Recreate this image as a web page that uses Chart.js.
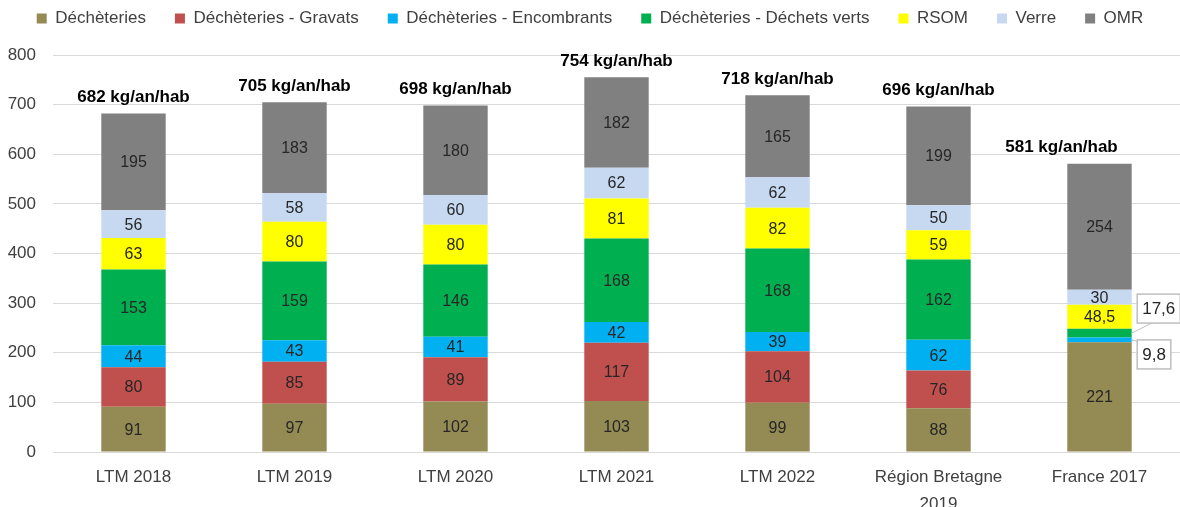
<!DOCTYPE html>
<html><head><meta charset="utf-8">
<script src="https://cdn.jsdelivr.net/npm/chart.js@4.4.1/dist/chart.umd.min.js"></script>
<style>html,body{margin:0;padding:0;background:#fff;overflow:hidden}#wrap{width:1180px;height:507px;position:relative}</style>
</head><body><div id="wrap"><canvas id="c" width="1180" height="507"></canvas></div>
<script>
const categories = ['LTM 2018','LTM 2019','LTM 2020','LTM 2021','LTM 2022',['Région Bretagne','2019'],'France 2017'];
const decheteries = [91,97,102,103,99,88,221];
const gravats = [80,85,89,117,104,76,null];
const encombrants = [44,43,41,42,39,62,9.8];
const dechetsVerts = [153,159,146,168,168,162,17.6];
const rsom = [63,80,80,81,82,59,48.5];
const verre = [56,58,60,62,62,50,30];
const omr = [195,183,180,182,165,199,254];
const totals = [682,705,698,754,718,696,581];
const totalUnit = ' kg/an/hab';
const yMin = 0, yMax = 800, yStep = 100;

const FONT = '"Liberation Sans", Arial, sans-serif';
const fmt = v => String(v).replace('.', ',');

const series = [
  {label:'Déchèteries', data:decheteries, color:'#948A54'},
  {label:'Déchèteries - Gravats', data:gravats, color:'#C0504D'},
  {label:'Déchèteries - Encombrants', data:encombrants, color:'#00B0F0'},
  {label:'Déchèteries - Déchets verts', data:dechetsVerts, color:'#00B050'},
  {label:'RSOM', data:rsom, color:'#FFFF00'},
  {label:'Verre', data:verre, color:'#C6D9F1'},
  {label:'OMR', data:omr, color:'#808080'}
];

const calloutStyle = {
  2: {dx: 5, dy: 14, anchor: 'topleft'},
  3: {dx: 5, dy: -25, anchor: 'bottom'}
};

const labelPlugin = {
  id: 'segLabels',
  afterDatasetsDraw(chart) {
    const ctx = chart.ctx;
    ctx.save();
    ctx.textAlign = 'center';
    ctx.textBaseline = 'middle';
    chart.data.datasets.forEach((ds, di) => {
      const meta = chart.getDatasetMeta(di);
      meta.data.forEach((bar, i) => {
        const v = ds.data[i];
        if (v == null) return;
        const txt = fmt(v);
        const cy = (bar.y + bar.base) / 2;
        if (v < 20 && calloutStyle[di]) {
          const cs = calloutStyle[di];
          ctx.font = '17px ' + FONT;
          const w = ctx.measureText(txt).width + 10;
          const h = 29;
          const right = bar.x + bar.width / 2;
          const bx = right + cs.dx;
          const bcy = cy + cs.dy;
          const by = bcy - h / 2;
          ctx.strokeStyle = '#BFBFBF';
          ctx.lineWidth = 1;
          ctx.beginPath();
          ctx.moveTo(right, cy);
          if (cs.anchor === 'bottom') ctx.lineTo(bx + 16, by + h);
          else ctx.lineTo(bx + 1, by + 2);
          ctx.stroke();
          ctx.fillStyle = '#fff';
          ctx.fillRect(bx, by, w, h);
          ctx.lineWidth = 1.5;
          ctx.strokeRect(bx + 0.5, by + 0.5, w, h);
          ctx.fillStyle = '#262626';
          ctx.fillText(txt, bx + w / 2 + 0.5, bcy + 1);
        } else {
          ctx.font = '16px ' + FONT;
          ctx.fillStyle = '#262626';
          ctx.fillText(txt, bar.x, cy + 1);
        }
      });
    });
    const last = chart.data.datasets.length - 1;
    const meta = chart.getDatasetMeta(last);
    ctx.font = 'bold 17px ' + FONT;
    ctx.fillStyle = '#000';
    totals.forEach((t, i) => {
      const bar = meta.data[i];
      const shift = (i === totals.length - 1) ? -38 : 0;
      ctx.fillText(t + totalUnit, bar.x + shift, bar.y - 16);
    });
    ctx.restore();
  }
};

const legendFit = {
  id: 'legendFit',
  beforeInit(chart) {
    const orig = chart.legend.fit;
    chart.legend.fit = function () {
      orig.bind(chart.legend)();
      this.height = 74;
    };
  }
};

new Chart(document.getElementById('c'), {
  type: 'bar',
  data: {
    labels: categories,
    datasets: series.map(s => ({
      label: s.label, data: s.data, backgroundColor: s.color, borderWidth: 0,
      barPercentage: 0.40, categoryPercentage: 1
    }))
  },
  options: {
    responsive: false,
    animation: false,
    devicePixelRatio: 1,
    layout: {padding: {top: -19, left: 0, right: 0, bottom: 0}},
    plugins: {
      legend: {
        position: 'top',
        labels: {boxWidth: 10, boxHeight: 10, padding: 29, color: '#404040', font: {family: FONT, size: 17}}
      },
      tooltip: {enabled: false}
    },
    scales: {
      x: {
        stacked: true,
        grid: {display: false},
        border: {display: false},
        ticks: {color: '#404040', font: {family: FONT, size: 17, lineHeight: 1.6}, padding: 4, maxRotation: 0, autoSkip: false},
        afterFit(scale) { scale.height = 55; }
      },
      y: {
        stacked: true,
        min: yMin, max: yMax,
        ticks: {stepSize: yStep, color: '#404040', font: {family: FONT, size: 17}, padding: 17},
        grid: {color: '#D9D9D9', drawTicks: false},
        border: {display: false},
        afterFit(scale) { scale.width = 53; }
      }
    }
  },
  plugins: [legendFit, labelPlugin]
});
</script>
</body></html>
